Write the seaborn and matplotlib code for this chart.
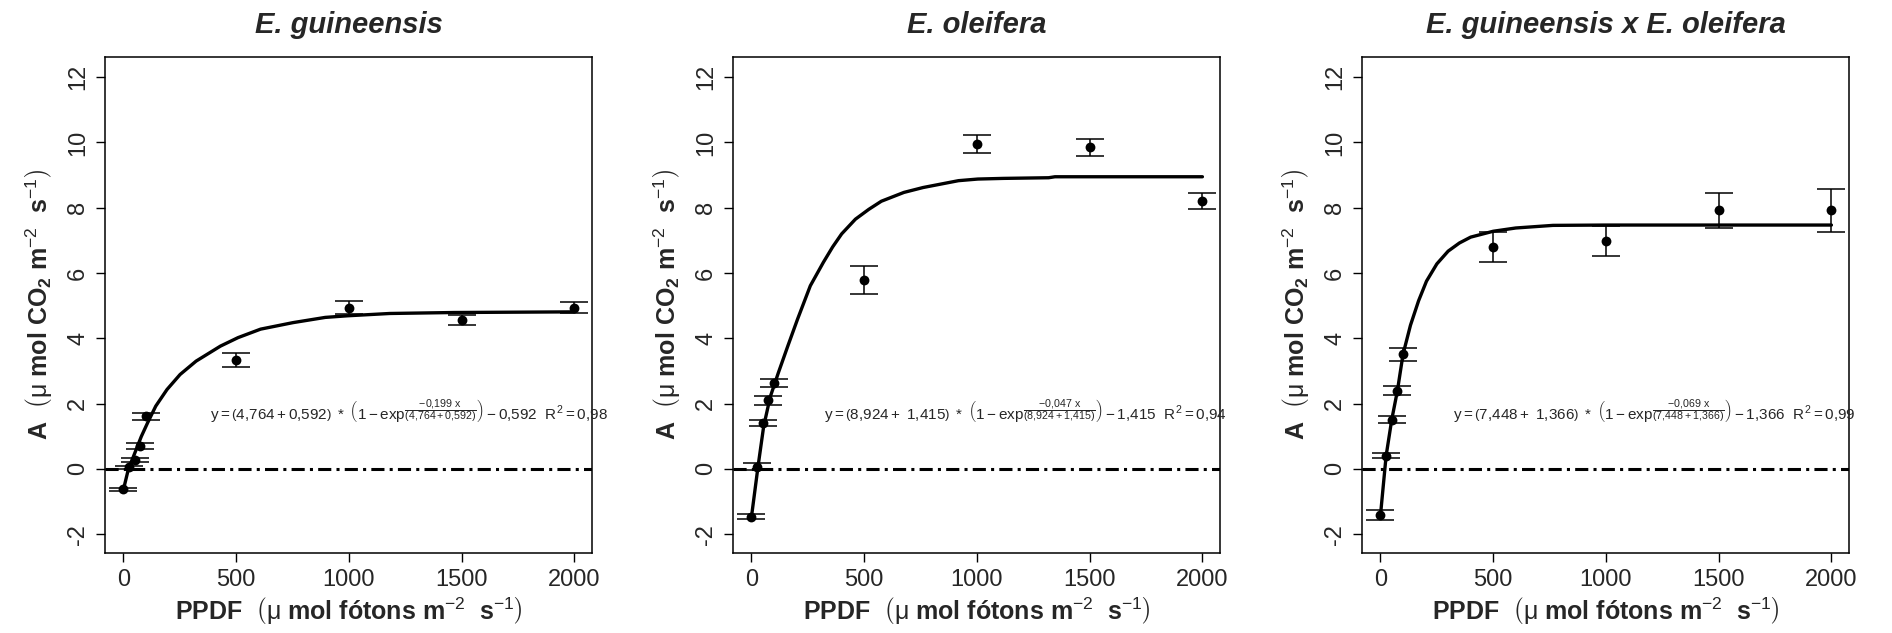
import numpy as np
import pandas as pd
import seaborn as sns
import matplotlib.pyplot as plt

# light response curves, three oil palm genotypes
titles = ["E. guineensis", "E. oleifera", "E. guineensis x E. oleifera"]
ppfd = [0, 25, 50, 75, 100, 500, 1000, 1500, 2000]

# mean net assimilation and error bar half-widths
a_gui = [-0.63, 0.05, 0.26, 0.69, 1.61, 3.33, 4.94, 4.57, 4.94]
e_gui = [0.04, 0.05, 0.06, 0.09, 0.11, 0.21, 0.19, 0.15, 0.18]
a_ole = [-1.47, 0.07, 1.41, 2.10, 2.62, 5.78, 9.95, 9.86, 8.20]
e_ole = [0.07, 0.10, 0.10, 0.14, 0.12, 0.42, 0.28, 0.26, 0.24]
a_hyb = [-1.42, 0.40, 1.51, 2.39, 3.51, 6.79, 6.98, 7.92, 7.92]
e_hyb = [0.16, 0.08, 0.12, 0.14, 0.20, 0.46, 0.47, 0.53, 0.65]

# fitted curves, points
fx_gui = [0, 21, 50, 79, 107, 143, 193, 251, 322, 430, 508, 608, 752, 895, 995, 1181, 1467, 2000]
fy_gui = [-0.63, -0.03, 0.48, 0.99, 1.41, 1.92, 2.43, 2.89, 3.30, 3.76, 4.02, 4.28, 4.48, 4.64, 4.69, 4.76, 4.79, 4.81]
fx_ole = [0, 29, 54, 83, 119, 161, 204, 261, 319, 360, 400, 461, 520, 576, 676, 761, 918, 1004, 1118, 1318, 1346, 2000]
fy_ole = [-1.47, 0.07, 1.30, 2.20, 2.94, 3.76, 4.58, 5.61, 6.33, 6.80, 7.20, 7.65, 7.95, 8.20, 8.47, 8.62, 8.83, 8.88, 8.90, 8.92, 8.95, 8.95]
fx_hyb = [0, 25, 50, 75, 100, 133, 169, 204, 250, 300, 350, 400, 500, 600, 765, 1000, 2000]
fy_hyb = [-1.42, 0.40, 1.51, 2.39, 3.51, 4.40, 5.15, 5.75, 6.28, 6.67, 6.92, 7.10, 7.28, 7.38, 7.46, 7.47, 7.47]

equations = [
    r"$y = \left(4{,}764 + 0{,}592\right)\ *\ \left(1 - exp^{\dfrac{-0{,}199\ x}{(4{,}764 + 0{,}592)}}\right) - 0{,}592\ \ R^2 = 0{,}98$",
    r"$y = \left(8{,}924 +\ 1{,}415\right)\ *\ \left(1 - exp^{\dfrac{-0{,}047\ x}{(8{,}924 + 1{,}415)}}\right) - 1{,}415\ \ R^2 = 0{,}94$",
    r"$y = \left(7{,}448 +\ 1{,}366\right)\ *\ \left(1 - exp^{\dfrac{-0{,}069\ x}{(7{,}448 + 1{,}366)}}\right) - 1{,}366\ \ R^2 = 0{,}99$",
]
eq_x = [1265, 1215, 1215]

panels = [
    (a_gui, e_gui, fx_gui, fy_gui),
    (a_ole, e_ole, fx_ole, fy_ole),
    (a_hyb, e_hyb, fx_hyb, fy_hyb),
]

sns.set_theme(style="ticks")
plt.rcParams["font.family"] = ["Liberation Sans", "DejaVu Sans"]
plt.rcParams["axes.unicode_minus"] = False
plt.rcParams["mathtext.fontset"] = "custom"
plt.rcParams["mathtext.rm"] = "Liberation Sans"
plt.rcParams["mathtext.it"] = "Liberation Sans"
plt.rcParams["mathtext.bf"] = "Liberation Sans:bold"

xlab = r"$\mathbf{PPDF}\ \ \left(\mu\ \mathbf{mol\ fótons\ m}^{-2}\ \ \mathbf{s}^{-1}\right)$"
ylab = r"$\mathbf{A}\ \ \left(\mu\ \mathbf{mol\ CO}_{\mathbf{2}}\ \mathbf{m}^{-2}\ \ \mathbf{s}^{-1}\right)$"

fig = plt.figure(figsize=(18.92, 6.33), dpi=100)
lefts = [105, 733, 1362]
for i, (a, e, fx, fy) in enumerate(panels):
    ax = fig.add_axes([lefts[i] / 1892, 1 - 553 / 633, 487 / 1892, 496 / 633])
    ax.axhline(0, color="black", lw=2.2, dashes=(4.3, 1.7, 1, 1.7), zorder=1)
    ax.errorbar(ppfd, a, yerr=e, fmt="none", ecolor="black", elinewidth=1.1,
                capsize=10, capthick=1.1, zorder=2)
    sns.lineplot(x=fx, y=fy, ax=ax, color="black", linewidth=2.4, sort=False,
                 estimator=None, zorder=3)
    sns.scatterplot(x=ppfd, y=a, ax=ax, color="black", s=50, marker="o",
                    edgecolor="black", linewidth=0, zorder=4)
    ax.set_xlim(-82, 2078)
    ax.set_ylim(-2.58, 12.62)
    ax.set_xticks([0, 500, 1000, 1500, 2000])
    ax.set_yticks([-2, 0, 2, 4, 6, 8, 10, 12])
    ax.tick_params(direction="out", length=6.5, width=1, labelsize=17, pad=5, color="black")
    for lab in ax.get_yticklabels():
        lab.set_rotation(90)
        lab.set_va("center")
    for sp in ax.spines.values():
        sp.set_visible(True)
        sp.set_color("black")
        sp.set_linewidth(1.1)
    ax.set_title(titles[i], fontsize=21, fontweight="bold", fontstyle="italic", pad=17)
    ax.set_xlabel(xlab, fontsize=18, labelpad=3)
    ax.set_ylabel(ylab, fontsize=18, labelpad=9)
    ax.text(eq_x[i], 1.75, equations[i], fontsize=11, ha="center", va="center")

fig.savefig("out.png", dpi=100)
